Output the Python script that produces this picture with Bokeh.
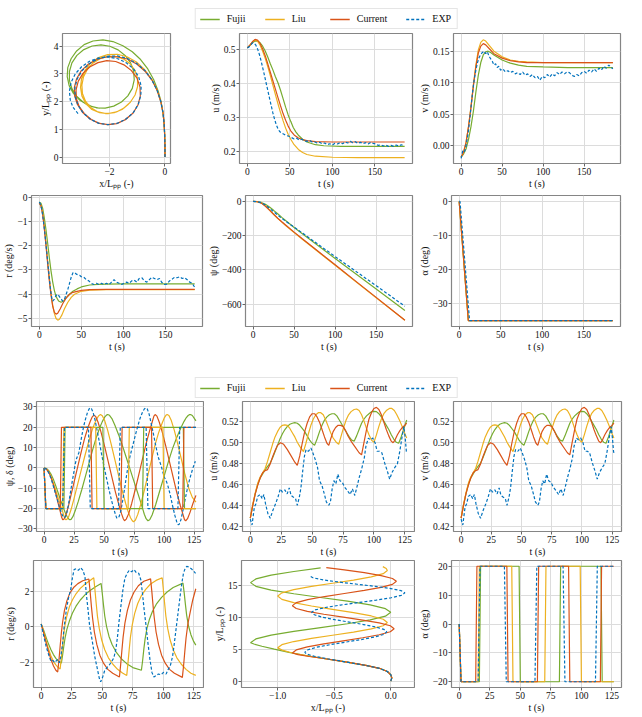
from bokeh.plotting import figure
from bokeh.layouts import row, column
from bokeh.models import Range1d, FixedTicker, CustomJSTickFormatter, Legend, LegendItem
from bokeh.embed import file_html
from bokeh.resources import INLINE

MODELS = ["Fujii", "Liu", "Current", "EXP"]
COLORS = {"Fujii": "#77AC30", "Liu": "#EDB120", "Current": "#D95319", "EXP": "#0072BD"}

# ================= Turning circle test (top block) =================
# trajectory x/Lpp, y/Lpp
TX_FUJ = [0.00,0.00,-0.01,-0.03,-0.07,-0.14,-0.25,-0.41,-0.62,-0.88,-1.18,-1.52,-1.88,-2.24,-2.60,-2.92,-3.19,-3.39,-3.51,-3.53,-3.46,-3.30,-3.07,-2.79,-2.48,-2.16,-1.85,-1.57,-1.34,-1.18,-1.11,-1.13,-1.24,-1.43,-1.69,-1.99,-2.31,-2.63,-2.93,-3.18,-3.36,-3.45,-3.45,-3.36,-3.19,-2.95,-2.66,-2.36]
TY_FUJ = [0.00,0.40,0.80,1.20,1.60,2.00,2.40,2.80,3.18,3.52,3.80,4.02,4.17,4.23,4.19,4.06,3.83,3.55,3.23,2.90,2.58,2.29,2.05,1.88,1.78,1.77,1.84,1.99,2.21,2.48,2.79,3.10,3.40,3.66,3.87,4.00,4.05,4.01,3.88,3.67,3.40,3.09,2.77,2.47,2.20,1.98,1.83,1.76]
TX_LIU = [0.00,0.00,-0.01,-0.03,-0.07,-0.15,-0.28,-0.47,-0.73,-1.03,-1.37,-1.72,-2.07,-2.40,-2.68,-2.88,-3.01,-3.05,-3.00,-2.86,-2.64,-2.36,-2.05,-1.75,-1.48,-1.25,-1.08,-0.99,-0.99,-1.08,-1.25,-1.48,-1.75,-2.04,-2.33,-2.59,-2.80,-2.94,-3.00,-2.98,-2.87,-2.68,-2.42,-2.13,-1.83,-1.55,-1.32]
TY_LIU = [0.00,0.40,0.80,1.20,1.60,2.00,2.40,2.80,3.15,3.43,3.62,3.71,3.70,3.59,3.40,3.14,2.84,2.52,2.21,1.93,1.72,1.60,1.57,1.63,1.77,1.98,2.24,2.54,2.84,3.12,3.36,3.53,3.63,3.64,3.56,3.40,3.17,2.90,2.60,2.30,2.02,1.79,1.63,1.57,1.60,1.72,1.91]
TX_CUR = [0.00,0.00,-0.01,-0.03,-0.07,-0.15,-0.28,-0.47,-0.72,-1.02,-1.36,-1.72,-2.08,-2.44,-2.76,-3.02,-3.19,-3.27,-3.26,-3.16,-2.98,-2.73,-2.42,-2.08,-1.74,-1.43,-1.16,-0.98,-0.89,-0.90,-1.01,-1.21,-1.48,-1.78,-2.10,-2.42,-2.72,-2.96,-3.13,-3.21,-3.20,-3.10,-2.91,-2.66,-2.37,-2.05,-1.74,-1.46,-1.22]
TY_CUR = [0.00,0.40,0.80,1.20,1.60,2.00,2.40,2.78,3.10,3.36,3.54,3.62,3.62,3.53,3.36,3.12,2.83,2.52,2.20,1.90,1.62,1.39,1.23,1.17,1.21,1.35,1.58,1.87,2.20,2.53,2.85,3.12,3.33,3.45,3.48,3.41,3.25,3.02,2.74,2.43,2.12,1.83,1.57,1.36,1.22,1.17,1.21,1.34,1.53]
TX_EXP = [0.00,0.00,-0.01,-0.03,-0.07,-0.15,-0.28,-0.47,-0.72,-1.02,-1.36,-1.72,-2.08,-2.43,-2.74,-3.00,-3.17,-3.25,-3.24,-3.14,-2.96,-2.71,-2.40,-2.06,-1.72,-1.41,-1.14,-0.96,-0.87,-0.86,-0.95,-1.13,-1.39,-1.70,-2.04,-2.39,-2.72,-3.01,-3.24,-3.39,-3.45,-3.42,-3.32,-3.14]
TY_EXP = [0.00,0.40,0.80,1.20,1.60,2.00,2.40,2.78,3.12,3.38,3.56,3.65,3.64,3.54,3.36,3.11,2.82,2.50,2.18,1.88,1.60,1.38,1.22,1.17,1.22,1.37,1.61,1.91,2.24,2.57,2.90,3.18,3.40,3.55,3.61,3.58,3.46,3.26,3.00,2.70,2.38,2.06,1.80,1.57]

# u (m/s) vs t (s)
U_T_FUJ = [(0,0.505),(3,0.512),(6,0.52),(9,0.525),(12,0.525),(15,0.52),(18,0.51),(21,0.496),(24,0.478),(27,0.458),(30,0.44),(33,0.42),(36,0.402),(39,0.38),(42,0.355),(45,0.33),(48,0.307),(51,0.288),(54,0.27),(57,0.257),(60,0.247),(65,0.235),(70,0.227),(80,0.219),(90,0.216),(110,0.214),(185,0.214)]
U_T_LIU = [(0,0.505),(3,0.513),(6,0.523),(9,0.528),(12,0.525),(15,0.513),(18,0.495),(21,0.474),(24,0.45),(27,0.423),(30,0.395),(33,0.367),(36,0.34),(39,0.314),(42,0.29),(45,0.268),(48,0.25),(51,0.235),(55,0.219),(60,0.205),(65,0.196),(70,0.19),(80,0.185),(100,0.182),(130,0.181),(185,0.181)]
U_T_CUR = [(0,0.505),(3,0.513),(6,0.523),(9,0.53),(12,0.528),(15,0.518),(18,0.502),(21,0.482),(24,0.458),(27,0.433),(30,0.408),(33,0.383),(36,0.358),(39,0.334),(42,0.311),(45,0.291),(48,0.274),(51,0.26),(55,0.248),(60,0.239),(65,0.234),(70,0.231),(80,0.228),(100,0.227),(185,0.227)]
U_T_EXP = [(0,0.505),(2,0.508),(4,0.514),(6,0.52),(8,0.519),(10,0.513),(12,0.502),(14,0.487),(16,0.468),(18,0.447),(20,0.425),(22,0.402),(24,0.38),(26,0.357),(28,0.335),(30,0.313),(32,0.294),(34,0.278),(36,0.266),(38,0.258),(40,0.254),
           (43,0.25),(46,0.246),(49,0.244),(52,0.240),(55,0.236),(58,0.238),(61,0.233),(64,0.235),(67,0.231),(70,0.229),(73,0.232),(76,0.227),(79,0.228),(82,0.224),(85,0.226),(88,0.222),(91,0.224),(94,0.219),(97,0.222),(100,0.218),
           (103,0.223),(106,0.221),(109,0.225),(112,0.222),(115,0.227),(118,0.224),(121,0.229),(124,0.225),(127,0.228),(130,0.223),(133,0.226),(136,0.222),(139,0.225),(142,0.221),(145,0.226),(148,0.223),(151,0.221),(154,0.217),(157,0.219),(160,0.215),
           (163,0.218),(166,0.214),(169,0.217),(172,0.214),(175,0.218),(178,0.215),(181,0.219),(184,0.216)]

# v (m/s) vs t (s)
V_T_FUJ = [(0,-0.018),(3,-0.013),(6,-0.005),(9,0.01),(12,0.03),(15,0.055),(18,0.085),(21,0.112),(24,0.132),(27,0.144),(30,0.149),(33,0.15),(36,0.148),(40,0.144),(50,0.136),(60,0.131),(70,0.128),(80,0.126),(100,0.125),(130,0.124),(185,0.124)]
V_T_LIU = [(0,-0.018),(3,-0.01),(6,0.005),(9,0.03),(12,0.062),(15,0.097),(18,0.128),(21,0.152),(24,0.164),(27,0.168),(30,0.166),(35,0.158),(40,0.15),(50,0.141),(60,0.136),(70,0.134),(80,0.133),(100,0.132),(185,0.132)]
V_T_CUR = [(0,-0.018),(3,-0.01),(6,0.005),(9,0.03),(12,0.06),(15,0.095),(18,0.125),(21,0.147),(24,0.158),(27,0.162),(30,0.16),(35,0.153),(40,0.146),(50,0.139),(60,0.135),(70,0.133),(80,0.132),(100,0.132),(185,0.132)]
V_T_EXP = [(0,-0.02),(2,-0.008),(4,-0.01),(6,0.0),(8,0.015),(10,0.035),(12,0.06),(14,0.085),(16,0.105),(18,0.12),(20,0.132),(22,0.14),(24,0.145),(26,0.148),(28,0.15),(30,0.146),(32,0.149),(34,0.142),(36,0.138),(38,0.134),(40,0.128),(42,0.13),(44,0.124),(46,0.126),(48,0.12),
           (51,0.122),(54,0.117),(57,0.119),(60,0.116),(63,0.118),(66,0.114),(69,0.116),(72,0.113),(75,0.117),(78,0.112),(81,0.114),(84,0.11),(87,0.113),(90,0.108),(93,0.11),(96,0.104),(99,0.11),(102,0.108),(105,0.113),(108,0.109),
           (111,0.114),(114,0.111),(117,0.116),(120,0.113),(123,0.117),(126,0.114),(129,0.117),(132,0.116),(135,0.112),(138,0.11),(141,0.113),(144,0.111),(147,0.116),(150,0.118),(153,0.115),(156,0.12),(159,0.117),(162,0.122),(165,0.118),
           (168,0.123),(171,0.12),(174,0.126),(177,0.123),(180,0.128),(183,0.124),(185,0.122)]

# r (deg/s) vs t (s)
R_T_FUJ = [(0,-0.2),(2,-0.25),(4,-0.45),(6,-0.85),(8,-1.35),(10,-1.9),(12,-2.5),(14,-3.05),(16,-3.5),(18,-3.85),(20,-4.1),(23,-4.28),(26,-4.33),(29,-4.28),(32,-4.15),(36,-4.0),(40,-3.88),(45,-3.78),(50,-3.7),(60,-3.62),(70,-3.59),(80,-3.58),(100,-3.57),(185,-3.57)]
R_T_LIU = [(0,-0.25),(2,-0.35),(4,-0.65),(6,-1.2),(8,-1.9),(10,-2.65),(12,-3.35),(14,-3.95),(16,-4.45),(18,-4.8),(20,-5.0),(22,-5.07),(24,-5.03),(27,-4.85),(30,-4.6),(34,-4.33),(38,-4.13),(42,-4.0),(50,-3.88),(60,-3.83),(80,-3.81),(185,-3.81)]
R_T_CUR = [(0,-0.25),(2,-0.35),(4,-0.7),(6,-1.3),(8,-2.0),(10,-2.75),(12,-3.45),(14,-4.05),(16,-4.5),(18,-4.75),(20,-4.82),(22,-4.78),(25,-4.6),(28,-4.38),(32,-4.15),(36,-4.0),(40,-3.92),(50,-3.84),(60,-3.81),(80,-3.8),(185,-3.8)]
R_T_EXP = [(0,-0.2),(1,-0.25),(3,-0.5),(5,-1.0),(7,-1.6),(9,-2.3),(11,-3.0),(13,-3.7),(15,-4.2),(16,-4.28),(18,-4.2),(20,-4.05),(22,-4.0),(24,-4.1),(26,-4.2),(28,-4.28),(30,-4.2),(32,-4.0),(34,-3.8),(36,-3.55),(38,-3.3),(40,-3.12),(42,-3.1),(44,-3.17),(46,-3.2),(48,-3.22),(50,-3.28),
           (53,-3.3),(56,-3.4),(59,-3.45),(62,-3.55),(65,-3.6),(68,-3.55),(71,-3.6),(74,-3.55),(77,-3.6),(80,-3.55),(83,-3.6),(86,-3.5),(89,-3.4),(92,-3.5),(95,-3.55),(98,-3.6),(101,-3.55),(104,-3.5),(107,-3.55),(110,-3.45),
           (113,-3.42),(116,-3.5),(119,-3.35),(122,-3.32),(125,-3.45),(128,-3.5),(131,-3.4),(134,-3.3),(137,-3.35),(140,-3.4),(143,-3.35),(146,-3.52),(149,-3.6),(152,-3.58),(155,-3.45),(158,-3.38),(161,-3.3),(164,-3.32),
           (167,-3.28),(170,-3.35),(173,-3.32),(176,-3.4),(179,-3.5),(182,-3.55),(185,-3.72)]

# psi (deg) vs t (s)
PSI_T_FUJ = [(0,0),(5,-1),(10,-6),(15,-17),(20,-33),(25,-52),(30,-72),(35,-93),(40,-113),(50,-152),(60,-189),(75,-243),(100,-333),(125,-422),(150,-511),(185,-636)]
PSI_T_LIU = [(0,0),(5,-2),(10,-9),(15,-26),(20,-50),(25,-75),(30,-99),(35,-121),(40,-142),(50,-182),(60,-221),(75,-278),(100,-373),(125,-468),(150,-563),(185,-694)]
PSI_T_CUR = [(0,0),(5,-2),(10,-10),(15,-28),(20,-51),(25,-75),(30,-98),(35,-119),(40,-139),(50,-179),(60,-218),(75,-275),(100,-370),(125,-465),(150,-560),(185,-693)]
PSI_T_EXP = [(0,0),(5,-1),(10,-7),(15,-21),(20,-40),(25,-60),(30,-80),(35,-99),(40,-117),(50,-150),(60,-184),(75,-236),(100,-322),(125,-407),(150,-492),(185,-612)]

# alpha (deg) vs t (s)
A_T_FUJ = [(0,0),(11,-35),(185,-35)]
A_T_LIU = [(0,0),(11,-35),(185,-35)]
A_T_CUR = [(0,0),(11,-35),(185,-35)]
A_T_EXP = [(0,0),(1,0),(12.5,-35),(185,-35)]

# ================= Zigzag test (bottom block) =================
PSI_Z_FUJ = [(0,0),(2,-0.3),(4,-1.4),(6,-3.3),(8,-6),(10,-9.2),(12,-12.7),(14,-16.3),(16,-19.5),(17.5,-21.8),(19,-23.8),(20.5,-25.1),(21.5,-25.5),(22.5,-25.3),(24,-24),(26,-21),(28.5,-16.5),(31.5,-10.5),(34.5,-4),(37.5,2.5),(40.5,9),(43.5,15),(46.5,20),(48.5,22.8),(50.5,25),(52,26),(53,26.3),
             (54.5,25.9),(56.5,24.3),(59,21),(62,16.5),(65,11.5),(68,6),(71,0.5),(74,-5),(77,-10.5),(80,-16),(82,-19.8),(83.5,-22.8),(85,-25),(86.5,-26),(88,-25.5),(90,-23.2),(93,-18),(96.5,-11),(100,-4),(103.5,3),(107,9.5),(110.5,15),
             (114,19.8),(116.5,22.8),(118.5,24.8),(120,25.8),(121,26.2),(122,26.3),(123.5,25.8),(125,24.5),(126.5,23.2)]
PSI_Z_LIU = [(0,0),(2,-0.5),(4,-2),(6,-4.5),(8,-7.8),(10,-11.5),(12,-15.3),(14,-19),(15.5,-21.5),(17,-24.5),(18,-25.5),(19,-25.3),(20.5,-24),(22.5,-20.5),(25,-15),(28,-8),(31,-1),(34,6),(37,12.5),(40,18.5),(42,21.8),(44,24.3),(45.5,25.7),(47,26.3),
             (48.5,25.7),(50.5,23.3),(53,18.5),(56,11.5),(59,4),(62,-3.5),(65,-11),(68,-17.5),(70,-21.5),(72,-24.5),(73.5,-26),(74.5,-26.5),(76,-25.8),(78,-23),(80.5,-18),(83.5,-11),(86.5,-3.5),(89.5,4),(92.5,11.5),(95.5,17.5),
             (98,21.5),(100,24.5),(101.5,25.9),(102.5,26.3),(104,25.8),(106,23.3),(108.5,18.5),(111.5,11.5),(114.5,4),(117.5,-3.5),(120.5,-10),(123.5,-14.5),(126.5,-16.8)]
PSI_Z_CUR = [(0,0),(2,-0.6),(4,-2.3),(6,-5),(8,-8.8),(10,-13.2),(12,-18),(13.5,-21.5),(14.5,-24),(15.5,-25.5),(16.5,-25.3),(18,-23.5),(20,-19.5),(22,-14.5),(25,-7),(28,0.5),(31,8),(34,15),(36.5,19.8),(38.5,23),(40,25),(41.5,26),
             (43,25.3),(45,22.5),(47.5,17.5),(50.5,10.5),(53.5,3),(56.5,-4.5),(59.5,-12),(62.5,-18.5),(64.5,-22.5),(66,-25),(67,-26),(68.5,-25.2),(70.5,-22.5),(73,-17.5),(76,-10.5),(79,-3),(82,4.5),(85,12),(88,18.5),(90,22.5),
             (91.5,25.5),(92.5,26.3),(94,25.5),(96,22.5),(98.5,17.5),(101.5,10.5),(104.5,3),(107.5,-4.5),(110.5,-12),(113.5,-18.5),(115.5,-22.5),(117,-25.5),(118,-26),(119.5,-25),(121.5,-22),(124,-17.5),(126.5,-13.5)]
PSI_Z_EXP = [(0,0),(2,-0.6),(4,-2.5),(6,-5.5),(8,-9.5),(10,-13.5),(12,-17.5),(13.5,-20.5),(15,-23),(16.5,-24.5),(17.5,-24.3),(19,-22),(20.5,-17.5),(22,-12),(23.5,-6.5),(25,-1.5),(26,2),(27,4.5),(28,6),(29,7.5),(30,11),(31.5,16),(33,20.5),
             (34.5,24),(36,27),(37.5,29),(38.5,29.6),(39.5,29.2),(41,27),(42.5,23.5),(44,19),(46,13),(48,6.5),(50,0.5),(52,-5),(54,-10.5),(56,-15.5),(58,-20),(59.5,-23),(60.5,-24.6),(61.5,-24.8),(62.5,-24),(64,-21),(65.5,-16),
             (67,-10.5),(68.5,-4.5),(70,1),(71.5,5.5),(73,9),(74.5,12.5),(76,16),(78,20.5),(80,24.5),(82,27.5),(83.5,29),(84.7,29.6),(86,29),(87.5,26.5),(89,22.5),(91,17),(93,11),(95,5.5),(97,2),(98.5,-1),(100,-4.5),
             (101.5,-6),(103,-8.5),(105,-13),(107,-18.5),(109,-23.5),(110.5,-26.5),(111.6,-28),(112.5,-27.8),(114,-25.5),(116,-20),(118,-14),(120,-8.5),(122,-4),(124,0),(126,3.3)]

# rudder angle (deg) vs t (s): drawn in psi/delta panel and alpha panel
D_Z_FUJ = [(0,0),(1.5,-20),(16.5,-20),(17.5,20),(49,20),(50,-20),(82,-20),(83,20),(116,20),(117,-20),(126.5,-20)]
D_Z_LIU = [(0,0),(1.5,-20),(15.5,-20),(16.5,20),(43,20),(44,-20),(70,-20),(71,20),(99,20),(100,-20),(126.5,-20)]
D_Z_CUR = [(0,0),(1.5,-20),(13.5,-20),(14.5,20),(39,20),(40,-20),(64,-20),(65,20),(89.5,20),(90.5,-20),(115.5,-20),(116.5,20),(126.5,20)]
D_Z_EXP = [(0,0),(1.5,-20),(15.5,-20),(17,20),(37,20),(38.5,-20),(62,-20),(63.5,20),(85,20),(86.5,-20),(111.5,-20),(113,20),(126.5,20)]

# u (m/s) vs t (s)
U_Z_FUJ = [(0,0.428),(2,0.44),(4,0.451),(6,0.46),(8,0.466),(10,0.47),(12,0.474),(14,0.477),(16,0.48),(18,0.485),(20,0.491),(22,0.497),(24,0.503),(26,0.508),(28,0.512),(30,0.515),(32,0.517),(34,0.518),(36,0.5185),(38,0.518),(40,0.516),
           (42,0.513),(44,0.51),(46,0.506),(48,0.502),(50,0.499),(52,0.497),(54,0.503),(56,0.51),(58,0.516),(60,0.521),(62,0.524),(64,0.526),(66,0.527),(68,0.527),(70,0.525),(72,0.521),(74,0.517),(76,0.513),(78,0.509),(80,0.505),
           (82,0.502),(84,0.501),(86,0.506),(88,0.512),(90,0.518),(92,0.522),(94,0.525),(96,0.527),(98,0.529),(100,0.5293),(102,0.529),(104,0.527),(106,0.524),(108,0.52),(110,0.516),(112,0.512),(114,0.507),(116,0.503),(118,0.5),
           (120,0.499),(122,0.505),(124,0.512),(126.5,0.521)]
U_Z_LIU = [(0,0.428),(2,0.441),(4,0.452),(6,0.461),(8,0.467),(10,0.471),(12,0.475),(14,0.482),(16,0.49),(18,0.498),(20,0.505),(22,0.51),(24,0.514),(26,0.516),(28,0.5165),(30,0.516),(32,0.513),(34,0.509),(36,0.505),(38,0.5),
           (40,0.496),(43,0.491),(45,0.499),(47,0.508),(49,0.516),(51,0.522),(53,0.526),(55,0.528),(57,0.528),(59,0.526),(61,0.521),(63,0.515),(65,0.509),(67,0.504),(69.5,0.5),(71.5,0.498),(73.5,0.506),(75.5,0.514),(77.5,0.521),
           (79.5,0.526),(81.5,0.529),(84,0.531),(86,0.5315),(88,0.53),(90,0.526),(92,0.52),(94,0.513),(96,0.507),(98,0.502),(100,0.5),(102,0.507),(104,0.515),(106,0.522),(108,0.527),(110,0.53),(112.5,0.532),(114.5,0.532),
           (116.5,0.53),(118.5,0.526),(121,0.52),(123.5,0.513),(125,0.508),(126.5,0.504)]
U_Z_CUR = [(0,0.428),(2,0.44),(4,0.451),(6,0.459),(8,0.466),(10,0.471),(12,0.473),(14,0.474),(16,0.479),(18,0.486),(20,0.492),(22,0.497),(24.5,0.4995),(27,0.498),(30,0.493),(33,0.487),(36,0.481),(38,0.478),(40,0.487),(42,0.499),
           (44,0.51),(46,0.518),(48,0.524),(50,0.527),(52,0.527),(54,0.524),(56,0.519),(58,0.512),(60,0.505),(62,0.499),(63.5,0.497),(65,0.503),(67,0.51),(69,0.514),(71,0.516),(73,0.516),(75,0.515),(77,0.511),(79,0.506),(82,0.5),
           (85,0.495),(88,0.49),(90,0.488),(92,0.5),(94,0.512),(96,0.522),(98,0.528),(100,0.532),(102,0.533),(104,0.531),(106,0.526),(108,0.519),(110,0.512),(112,0.506),(114,0.501),(115.5,0.4995),(117,0.502),(119,0.507),
           (121,0.511),(123,0.514),(125,0.516),(126.5,0.518)]
U_Z_EXP = [(0,0.427),(1.4,0.4215),(3.3,0.4386),(4.6,0.4417),(6,0.4486),(8,0.4504),(9.6,0.4464),(11,0.4504),(12.3,0.4417),(14.2,0.4324),(16.1,0.4278),(18.3,0.4355),(20.5,0.4417),(22.4,0.448),(24.3,0.4557),(26,0.4526),
           (27.9,0.4548),(29.8,0.451),(31.5,0.4566),(33,0.4495),(34.7,0.448),(36.6,0.4464),(38,0.4402),(39.7,0.448),(41,0.4573),(42.4,0.4728),(43.8,0.4868),(45.1,0.493),(47,0.4914),(49,0.4945),(50.6,0.4899),(52.5,0.4837),
           (54.4,0.4759),(56,0.4635),(58,0.4588),(60,0.4504),(61.5,0.4433),(63.5,0.4402),(64.8,0.4433),(66.2,0.4557),(67.6,0.4635),(69.2,0.4604),(70.8,0.4697),(72.5,0.4635),(74.4,0.4619),(76.3,0.4573),(78.5,0.4542),
           (80.7,0.4504),(82.6,0.4557),(84.5,0.4495),(86.2,0.4573),(88.1,0.4666),(90,0.4743),(92.2,0.4852),(93.5,0.4961),(95.5,0.5039),(97.1,0.5023),(99,0.5039),(101,0.4992),(102.6,0.4914),(104.5,0.4914),(106.4,0.4899),
           (108.6,0.4806),(110.8,0.4728),(112.7,0.465),(114.6,0.4712),(116.8,0.4759),(119,0.4796),(120.9,0.4914),(122.8,0.5054),(124.2,0.5147),(125.3,0.5039),(126.2,0.4914),(126.5,0.4899)]
# the reference's v panel repeats the u curves
V_Z_FUJ = list(U_Z_FUJ)
V_Z_LIU = list(U_Z_LIU)
V_Z_CUR = list(U_Z_CUR)
V_Z_EXP = list(U_Z_EXP)

# r (deg/s) vs t (s)
R_Z_FUJ = [(0,0.15),(2,-0.2),(4,-0.6),(6,-0.98),(8,-1.3),(10,-1.57),(12,-1.78),(14,-1.93),(16.5,-2.05),(17.5,-1.6),(18.5,-1.1),(19.5,-0.65),(21,-0.15),(23,0.3),(25.5,0.75),(28.5,1.15),(32,1.5),(36,1.8),(40,2.03),(44.5,2.25),
           (49,2.43),(50,1.85),(51,1.2),(52,0.6),(53.5,0.0),(55.5,-0.55),(58,-1.0),(61.5,-1.45),(65.5,-1.8),(70,-2.08),(75,-2.3),(82,-2.45),(83,-1.9),(84,-1.25),(85,-0.7),(86.5,-0.1),(88.5,0.4),(91,0.85),(94.5,1.3),
           (98.5,1.65),(103,1.95),(108,2.2),(116,2.45),(117,1.9),(118,1.25),(119,0.65),(120.5,0.05),(122.5,-0.45),(124.5,-0.8),(126.5,-1.04)]
R_Z_LIU = [(0,0.15),(2,-0.3),(4,-0.8),(6,-1.25),(8,-1.65),(10,-1.95),(12,-2.15),(14,-2.3),(15.5,-2.38),(16.5,-1.75),(17.5,-1.05),(18.5,-0.4),(19.5,0.1),(21,0.6),(23,1.1),(25.5,1.5),(28.5,1.85),(32,2.15),(36,2.4),(40,2.6),
           (43,2.75),(44,2.05),(45,1.3),(46,0.6),(47.5,-0.1),(49.5,-0.75),(52,-1.3),(55,-1.75),(58.5,-2.1),(62.5,-2.4),(66.5,-2.6),(70,-2.74),(71,-2.05),(72,-1.3),(73,-0.6),(74.5,0.1),(76.5,0.75),(79,1.3),(82,1.75),
           (85.5,2.1),(89.5,2.4),(94,2.6),(99,2.75),(100,2.05),(101,1.3),(102,0.6),(103.5,-0.1),(105.5,-0.75),(108,-1.3),(111,-1.75),(114.5,-2.1),(118.5,-2.4),(122.5,-2.62),(126.5,-2.74)]
R_Z_CUR = [(0,0.15),(2,-0.35),(4,-0.9),(6,-1.4),(8,-1.85),(10,-2.2),(12,-2.45),(13.5,-2.55),(14.5,-1.9),(15.5,-1.1),(16.5,-0.35),(17.5,0.25),(19,0.9),(21,1.45),(23.5,1.9),(26.5,2.2),(30,2.42),(34,2.58),(39,2.68),(40,2.0),
           (41,1.2),(42,0.5),(43.5,-0.3),(45.5,-1.0),(48,-1.6),(51,-2.05),(54.5,-2.4),(58.5,-2.62),(64,-2.83),(65,-2.15),(66,-1.35),(67,-0.6),(68.5,0.2),(70.5,0.9),(73,1.5),(76,1.95),(79.5,2.3),(84,2.55),(89.5,2.69),
           (90.5,2.0),(91.5,1.2),(92.5,0.5),(94,-0.3),(96,-1.0),(98.5,-1.6),(101.5,-2.05),(105,-2.4),(109,-2.62),(115.5,-2.85),(116.5,-2.2),(117.5,-1.4),(118.5,-0.65),(120,0.15),(122,0.85),(124,1.5),(126.5,2.13)]
R_Z_EXP = [(0,0.15),(2,-0.5),(4,-1.1),(6.2,-1.6),(8,-1.95),(9.5,-1.9),(11,-2.02),(12.3,-1.92),(13.4,-1.85),(14.8,-2.03),(16,-1.7),(17.5,-0.95),(18.8,0.0),(20.7,1.0),(22.3,1.6),(24.2,2.1),(25.5,2.73),(26.9,3.21),(28.8,3.26),
           (30.4,3.17),(32.3,3.32),(34.1,3.17),(35.8,2.82),(36.8,1.92),(38.2,1.03),(39.5,0.13),(41.7,-0.77),(43.8,-1.67),(46,-2.39),(47.6,-2.92),(48.7,-3.1),(50.3,-2.83),(51.9,-2.48),(53.8,-2.3),(55.6,-2.17),(57.8,-1.94),
           (59.4,-1.76),(61,-1.31),(62.4,-0.59),(63.7,0.3),(65.3,1.2),(66.9,2.1),(68.5,2.73),(70.4,3.0),(72,3.17),(73.9,3.09),(76,3.21),(77.9,3.03),(79.8,3.0),(81.5,2.64),(82.8,1.92),(84.1,1.03),(85.8,0.04),(87.4,-0.95),
           (89,-1.85),(90.6,-2.57),(92.2,-2.83),(94.1,-2.75),(95.9,-2.66),(98.1,-2.71),(100,-2.57),(102.2,-2.66),(104,-2.39),(105.6,-2.21),(107.5,-1.67),(108.9,-0.95),(110.5,-0.05),(112.1,0.84),(113.7,1.74),(115.1,2.46),
           (116.4,3.0),(117.7,3.26),(119.1,3.39),(121,3.35),(122.8,3.26),(124.5,3.14),(126.3,3.0)]

# zigzag trajectory x/Lpp, y/Lpp
ZX_FUJ = [0,0.01,0.0,-0.03,-0.1,-0.22,-0.4,-0.58,-0.75,-0.9,-1.03,-1.14,-1.21,-1.24,-1.193,-1.058,-0.857,-0.62,-0.383,-0.182,-0.047,0.0,-0.047,-0.182,-0.383,-0.62,-0.857,-1.058,-1.193,-1.24,-1.193,-1.058,-0.857,-0.62]
ZY_FUJ = [0,0.5,1.0,1.5,2.0,2.45,3.0,3.5,4.0,4.5,5.0,5.45,5.8,6.0,6.594,7.188,7.781,8.375,8.969,9.563,10.156,10.75,11.331,11.913,12.494,13.075,13.656,14.238,14.819,15.4,15.98,16.56,17.14,17.7]
ZX_LIU = [0,0.01,0.0,-0.03,-0.1,-0.22,-0.4,-0.58,-0.74,-0.87,-0.96,-1.0,-0.963,-0.858,-0.701,-0.515,-0.329,-0.172,-0.067,-0.03,-0.067,-0.172,-0.329,-0.515,-0.701,-0.858,-0.963,-1.0,-0.963,-0.858,-0.701,-0.515,-0.329,-0.172,-0.067,-0.03,-0.04,-0.07]
ZY_LIU = [0,0.5,1.0,1.5,2.0,2.45,3.0,3.5,3.95,4.4,4.85,5.2,5.694,6.188,6.681,7.175,7.669,8.163,8.656,9.15,9.669,10.188,10.706,11.225,11.744,12.263,12.781,13.3,13.8,14.3,14.8,15.3,15.8,16.3,16.8,17.3,17.6,17.9]
ZX_CUR = [0,0.01,0.0,-0.03,-0.1,-0.22,-0.4,-0.58,-0.72,-0.82,-0.87,-0.836,-0.738,-0.592,-0.42,-0.248,-0.102,-0.004,0.03,-0.004,-0.102,-0.248,-0.42,-0.592,-0.738,-0.836,-0.87,-0.835,-0.735,-0.586,-0.41,-0.234,-0.085,0.015,0.05,0.015,-0.085,-0.234,-0.41,-0.57]
ZY_CUR = [0,0.5,1.0,1.5,2.0,2.45,3.0,3.5,3.85,4.15,4.4,4.875,5.35,5.825,6.3,6.775,7.25,7.725,8.2,8.65,9.1,9.55,10.0,10.45,10.9,11.35,11.8,12.275,12.75,13.225,13.7,14.175,14.65,15.125,15.6,16.05,16.5,16.95,17.4,17.75]
ZX_EXP = [0,0.01,0.0,-0.03,-0.1,-0.22,-0.4,-0.56,-0.68,-0.74,-0.76,-0.732,-0.654,-0.536,-0.398,-0.259,-0.141,-0.062,-0.035,-0.06,-0.132,-0.24,-0.368,-0.495,-0.603,-0.675,-0.7,-0.669,-0.579,-0.445,-0.288,-0.13,0.004,0.094,0.125,0.093,0.001,-0.136,-0.298,-0.459,-0.596,-0.688,-0.72]
ZY_EXP = [0,0.5,1.0,1.5,2.0,2.45,3.0,3.5,3.9,4.2,4.5,4.9,5.3,5.7,6.1,6.5,6.9,7.3,7.7,8.081,8.463,8.844,9.225,9.606,9.988,10.369,10.75,11.131,11.513,11.894,12.275,12.656,13.038,13.419,13.8,14.138,14.475,14.813,15.15,15.488,15.825,16.163,16.5]

# ================= styling helpers =================
FONT = "Liberation Serif"
LW = 1.2
INK = "#111111"


def fmt(d):
    return CustomJSTickFormatter(code="return tick.toFixed(%d).replace('-', '\u2212');" % d)


def split(pairs):
    return [a for a, _ in pairs], [b for _, b in pairs]


def panel(width, bl, br, height, bt, bb, xr, yr, xt, yt, xd, yd, xlab, ylab, series):
    p = figure(width=width, height=height, output_backend="svg", toolbar_location=None,
               x_range=Range1d(*xr), y_range=Range1d(*yr),
               min_border_left=bl, min_border_right=br, min_border_top=bt, min_border_bottom=bb)
    p.xaxis.ticker = FixedTicker(ticks=xt, minor_ticks=[])
    p.yaxis.ticker = FixedTicker(ticks=yt, minor_ticks=[])
    p.xaxis.formatter = fmt(xd)
    p.yaxis.formatter = fmt(yd)
    p.xaxis.axis_label = xlab
    p.yaxis.axis_label = ylab
    p.axis.axis_line_color = None
    p.axis.major_tick_line_color = "#666666"
    p.axis.major_tick_in = 0
    p.axis.major_tick_out = 3
    p.axis.minor_tick_line_color = None
    p.axis.major_label_text_font = FONT
    p.axis.major_label_text_font_size = "9.5px"
    p.axis.major_label_text_color = INK
    p.axis.major_label_standoff = 1
    p.axis.axis_label_text_font = FONT
    p.axis.axis_label_text_font_size = "10px"
    p.axis.axis_label_text_font_style = "normal"
    p.axis.axis_label_text_color = INK
    p.axis.axis_label_standoff = 0
    p.grid.grid_line_color = "#dcdcdc"
    p.grid.grid_line_width = 1
    p.outline_line_color = "#858585"
    p.outline_line_width = 1.2
    for xs, ys, key in series:
        p.line(xs, ys, line_color=COLORS[key], line_width=LW,
               line_dash="3 2" if key == "EXP" else "solid")
    return p


def legend_fig(height, series):
    # The legend sits in its own strip. Its renderers carry the series data,
    # but the strip's ranges lie far outside that data, so only the legend shows.
    p = figure(width=640, height=height, output_backend="svg", toolbar_location=None,
               x_range=Range1d(5000, 5001), y_range=Range1d(5000, 5001),
               x_axis_type=None, y_axis_type=None,
               min_border_left=12, min_border_right=0, min_border_top=0, min_border_bottom=0)
    p.outline_line_color = None
    items = []
    for xs, ys, key in series:
        r = p.line(xs, ys, line_color=COLORS[key], line_width=1.3,
                   line_dash="3 2" if key == "EXP" else "solid")
        items.append(LegendItem(label=key, renderers=[r]))
    leg = Legend(items=items, orientation="horizontal", location="bottom_center",
                 label_text_font=FONT, label_text_font_size="10px", label_text_color=INK,
                 glyph_width=20, glyph_height=10, label_height=10, label_standoff=7,
                 spacing=18, padding=4, margin=2,
                 border_line_color="#cccccc", border_line_width=1, background_fill_color="white")
    p.add_layout(leg, "center")
    return p


def four(a, b, c, d):
    return [(*split(a), "Fujii"), (*split(b), "Liu"), (*split(c), "Current"), (*split(d), "EXP")]


TT = (-9.25, 194.25)
TTK = [0, 50, 100, 150]
ZT = (-6.3, 132.8)
ZTK = [0, 25, 50, 75, 100, 125]
TL = "t (s)"

# row heights: (height, top border, bottom border)
A1 = (160, 2, 26)
A2 = (164, 4, 29)
B1 = (159, 1, 26)
B2 = (156, 1, 26)
W1, W2, W3 = 204, 211, 225

p1 = panel(W1, 62, 34, A1[0], A1[1], A1[2], (-3.70, 0.20), (-0.23, 4.46), [-2, 0], [0, 1, 2, 3, 4], 0, 0,
           "x/L\u209a\u209a (-)", "y/L\u209a\u209a (-)",
           [(TX_FUJ, TY_FUJ, "Fujii"), (TX_LIU, TY_LIU, "Liu"), (TX_CUR, TY_CUR, "Current"), (TX_EXP, TY_EXP, "EXP")])
p2 = panel(W2, 35, 3, A1[0], A1[1], A1[2], TT, (0.1635, 0.5475), TTK, [0.2, 0.3, 0.4, 0.5], 0, 1,
           TL, "u (m/s)", four(U_T_FUJ, U_T_LIU, U_T_CUR, U_T_EXP))
p3 = panel(W3, 32, 20, A1[0], A1[1], A1[2], TT, (-0.028, 0.178), TTK, [0.0, 0.05, 0.10, 0.15], 0, 2,
           TL, "v (m/s)", four(V_T_FUJ, V_T_LIU, V_T_CUR, V_T_EXP))
p4 = panel(W1, 29, 2, A2[0], A2[1], A2[2], TT, (-5.33, 0.07), TTK, [-5, -4, -3, -2, -1, 0], 0, 0,
           TL, "r (deg/s)", four(R_T_FUJ, R_T_LIU, R_T_CUR, R_T_EXP))
p5 = panel(W2, 35, 3, A2[0], A2[1], A2[2], TT, (-730, 34.6), TTK, [-600, -400, -200, 0], 0, 0,
           TL, "\u03c8 (deg)", four(PSI_T_FUJ, PSI_T_LIU, PSI_T_CUR, PSI_T_EXP))
p6 = panel(W3, 32, 20, A2[0], A2[1], A2[2], TT, (-36.75, 1.75), TTK, [-30, -20, -10, 0], 0, 0,
           TL, "\u03b1 (deg)", four(A_T_FUJ, A_T_LIU, A_T_CUR, A_T_EXP))

psd = four(PSI_Z_FUJ, PSI_Z_LIU, PSI_Z_CUR, PSI_Z_EXP) + four(D_Z_FUJ, D_Z_LIU, D_Z_CUR, D_Z_EXP)
p7 = panel(W1, 33, 1, B1[0], B1[1], B1[2], ZT, (-31.3, 32.7), ZTK, [-30, -20, -10, 0, 10, 20, 30], 0, 0,
           TL, "\u03c8, \u03b4 (deg)", psd)
p8 = panel(W2, 37, 1, B1[0], B1[1], B1[2], ZT, (0.4153, 0.5386), ZTK, [0.42, 0.44, 0.46, 0.48, 0.50, 0.52], 0, 2,
           TL, "u (m/s)", four(U_Z_FUJ, U_Z_LIU, U_Z_CUR, U_Z_EXP))
p9 = panel(W3, 33, 19, B1[0], B1[1], B1[2], ZT, (0.4153, 0.5386), ZTK, [0.42, 0.44, 0.46, 0.48, 0.50, 0.52], 0, 2,
           TL, "v (m/s)", four(V_Z_FUJ, V_Z_LIU, V_Z_CUR, V_Z_EXP))
p10 = panel(W1, 33, 1, B2[0], B2[1], B2[2], ZT, (-3.42, 3.72), ZTK, [-2, 0, 2], 0, 0,
            TL, "r (deg/s)", four(R_Z_FUJ, R_Z_LIU, R_Z_CUR, R_Z_EXP))
p11 = panel(W2, 37, 1, B2[0], B2[1], B2[2], (-1.32, 0.21), (-1.0, 18.86), [-1.0, -0.5, 0.0], [0, 5, 10, 15], 1, 0,
            "x/L\u209a\u209a (-)", "y/L\u209a\u209a (-)",
            [(ZX_FUJ, ZY_FUJ, "Fujii"), (ZX_LIU, ZY_LIU, "Liu"), (ZX_CUR, ZY_CUR, "Current"), (ZX_EXP, ZY_EXP, "EXP")])
p12 = panel(W3, 33, 19, B2[0], B2[1], B2[2], ZT, (-22, 22), ZTK, [-20, -10, 0, 10, 20], 0, 0,
            TL, "\u03b1 (deg)", four(D_Z_FUJ, D_Z_LIU, D_Z_CUR, D_Z_EXP))

leg_top = legend_fig(31, four(U_T_FUJ, U_T_LIU, U_T_CUR, U_T_EXP))
leg_bot = legend_fig(45, four(U_Z_FUJ, U_Z_LIU, U_Z_CUR, U_Z_EXP))

layout = column(leg_top, row(p1, p2, p3), row(p4, p5, p6),
                leg_bot, row(p7, p8, p9), row(p10, p11, p12))

open("out.html", "w").write(file_html(layout, INLINE))
